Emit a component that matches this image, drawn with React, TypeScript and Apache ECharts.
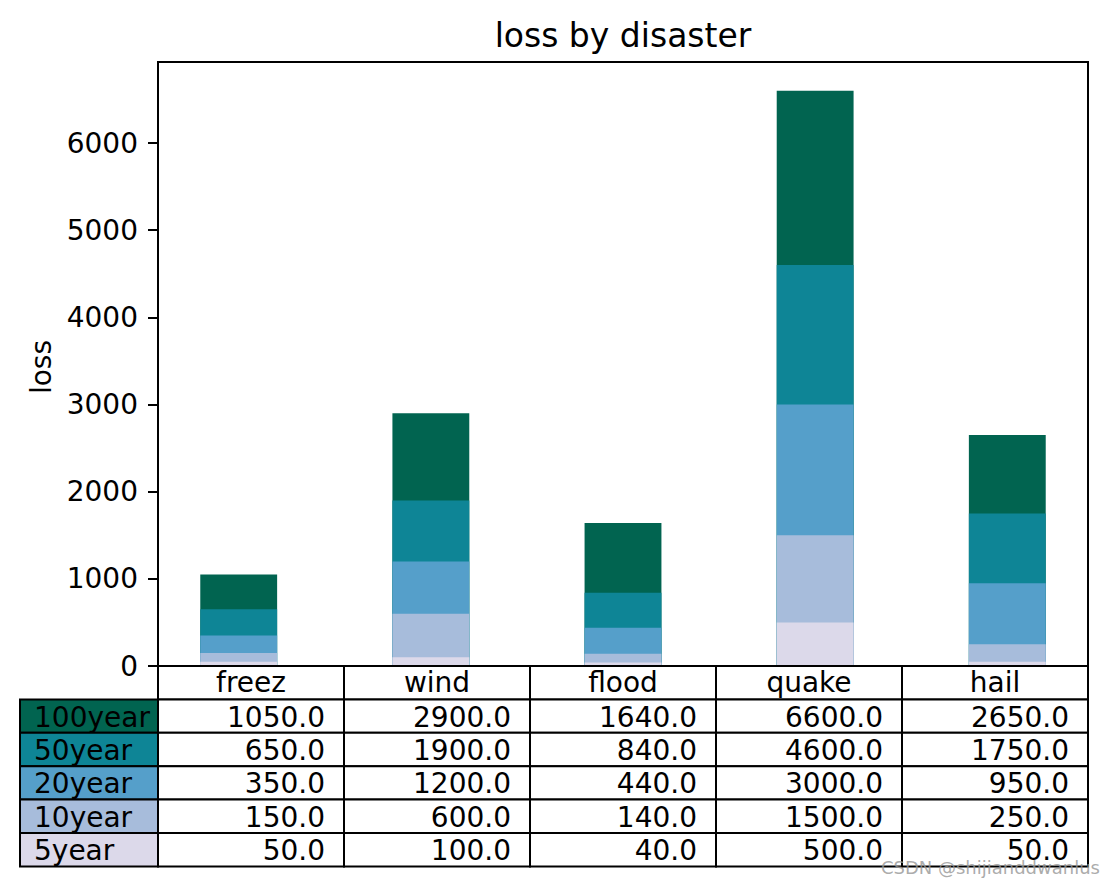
import React, { useEffect, useRef } from "react";
import * as echarts from "echarts";

const categories = ["freez", "wind", "flood", "quake", "hail"];
const rowNames = ["100year", "50year", "20year", "10year", "5year"];
const values100 = [1050, 2900, 1640, 6600, 2650];
const values50 = [650, 1900, 840, 4600, 1750];
const values20 = [350, 1200, 440, 3000, 950];
const values10 = [150, 600, 140, 1500, 250];
const values5 = [50, 100, 40, 500, 50];
const rowColors = ["#016450", "#0e8596", "#559fca", "#a7bcdb", "#dcd9ea"];
const yTicks = [0, 1000, 2000, 3000, 4000, 5000, 6000];

const allRows = [values100, values50, values20, values10, values5];

const FONT = "DejaVu Sans";
const GRID_L = 158;
const GRID_R = 1088;
const GRID_T = 62;
const GRID_B = 666;
const X_MIN = -0.42;
const X_MAX = 4.42;
const FS = 28;

export default function App() {
  const ref = useRef<HTMLDivElement>(null);
  useEffect(() => {
    if (!ref.current) return;
    const chart = echarts.init(ref.current, undefined, { renderer: "svg" });
    const unit = (GRID_R - GRID_L) / (X_MAX - X_MIN);
    const barW = 0.4 * unit;

    const colW = (GRID_R - GRID_L) / categories.length;
    const headerH = 33.4;
    const rowH = 33.4;
    const graphics: any[] = [];
    categories.forEach((c, i) => {
      graphics.push({
        type: "rect",
        shape: { x: GRID_L + i * colW, y: GRID_B, width: colW, height: headerH },
        style: { fill: "#fff", stroke: "#000", lineWidth: 2 },
        z: 10,
      });
      graphics.push({
        type: "text",
        style: {
          text: c,
          x: GRID_L + i * colW + colW / 2,
          y: GRID_B + headerH / 2,
          align: "center",
          verticalAlign: "middle",
          font: `${FS}px '${FONT}'`,
          fill: "#000",
        },
        z: 11,
      });
    });
    allRows.forEach((row, r) => {
      const y0 = GRID_B + headerH + r * rowH;
      graphics.push({
        type: "rect",
        shape: { x: 20, y: y0, width: GRID_L - 20, height: rowH },
        style: { fill: rowColors[r], stroke: "#000", lineWidth: 2 },
        z: 10,
      });
      graphics.push({
        type: "text",
        style: {
          text: rowNames[r],
          x: 34,
          y: y0 + rowH / 2 + 1,
          align: "left",
          verticalAlign: "middle",
          font: `${FS}px '${FONT}'`,
          fill: "#000",
        },
        z: 11,
      });
      row.forEach((v, i) => {
        graphics.push({
          type: "rect",
          shape: { x: GRID_L + i * colW, y: y0, width: colW, height: rowH },
          style: { fill: "#fff", stroke: "#000", lineWidth: 2 },
          z: 10,
        });
        graphics.push({
          type: "text",
          style: {
            text: v.toFixed(1),
            x: GRID_L + (i + 1) * colW - 19,
            y: y0 + rowH / 2 + 1,
            align: "right",
            verticalAlign: "middle",
            font: `${FS}px '${FONT}'`,
            fill: "#000",
          },
          z: 11,
        });
      });
    });
    graphics.push({
      type: "text",
      style: {
        text: "loss by disaster",
        x: (GRID_L + GRID_R) / 2,
        y: 35,
        align: "center",
        verticalAlign: "middle",
        font: `33px '${FONT}'`,
        fill: "#000",
      },
    });
    graphics.push({
      type: "text",
      rotation: Math.PI / 2,
      x: 41,
      y: 367,
      style: {
        text: "loss",
        x: 0,
        y: 0,
        align: "center",
        verticalAlign: "middle",
        font: `${FS}px '${FONT}'`,
        fill: "#000",
      },
    });
    graphics.push({
      type: "text",
      style: {
        text: "CSDN @shijianddwanlus",
        x: 1100,
        y: 858,
        align: "right",
        verticalAlign: "top",
        font: `18px '${FONT}'`,
        fill: "rgba(150,150,150,0.8)",
      },
      z: 20,
    });

    const series = allRows.map((row, r) => ({
      name: rowNames[r],
      type: "bar",
      data: row.map((v, i) => [i, v]),
      barWidth: barW,
      barGap: "-100%",
      itemStyle: { color: rowColors[r] },
      z: 2,
    }));

    chart.setOption({
      animation: false,
      grid: {
        left: GRID_L,
        top: GRID_T,
        width: GRID_R - GRID_L,
        height: GRID_B - GRID_T,
        show: true,
        borderColor: "#000",
        borderWidth: 2,
        backgroundColor: "transparent",
      },
      xAxis: {
        type: "value",
        min: X_MIN,
        max: X_MAX,
        show: false,
        splitLine: { show: false },
      },
      yAxis: {
        type: "value",
        min: 0,
        max: 6930,
        interval: 1000,
        axisLine: { show: true, onZero: false, lineStyle: { color: "#000", width: 2 } },
        axisTick: {
          show: true,
          length: 10,
          lineStyle: { color: "#000", width: 2 },
          customValues: yTicks,
        },
        axisLabel: {
          customValues: yTicks,
          formatter: (v: number) => String(v),
          color: "#000",
          fontSize: FS,
          fontFamily: FONT,
          margin: 20,
        },
        splitLine: { show: false },
      },
      series,
      graphic: graphics,
    });
    return () => chart.dispose();
  }, []);
  return (
    <div
      ref={ref}
      style={{ position: "fixed", left: 0, top: 0, width: 1108, height: 886, background: "#fff" }}
    />
  );
}
